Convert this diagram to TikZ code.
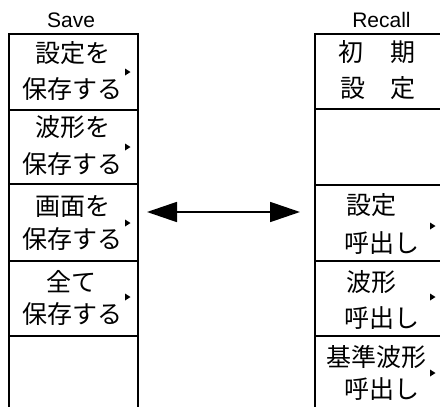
\documentclass[tikz,border=0pt]{standalone}
\usepackage{fontspec}
\setmainfont{Liberation Sans}
\newfontfamily\jp{Noto Sans CJK JP}
\usetikzlibrary{arrows.meta}
\begin{document}
\begin{tikzpicture}[x=1pt,y=-1pt,
  cell/.style={draw, line width=2.4pt, inner sep=0pt, anchor=north west},
  lcell/.style={cell, minimum width=129pt},
  rcell/.style={cell, minimum width=140pt},
  jt/.style={font=\jp\fontsize{25}{30}\selectfont, inner sep=0pt, anchor=base},
  jtw/.style={jt, anchor=base west},
  lbl/.style={font=\fontsize{21}{25}\selectfont, inner sep=0pt, anchor=base},
  arr/.style={line width=1.8pt, {Triangle[length=30pt,width=20pt]}-{Triangle[length=30pt,width=20pt]}}
]
\useasboundingbox (0,0) rectangle (440,407);
\clip (0,0) rectangle (440,407);

% headings
\node[lbl] (save) at (71,27) {Save};
\node[lbl] (recall) at (381.5,27) {Recall};

% left column
\node[lcell, minimum height=76pt] (s1) at (8,33) {};
\node[lcell, minimum height=74pt] (s2) at (8,109) {};
\node[lcell, minimum height=77pt] (s3) at (8,183) {};
\node[lcell, minimum height=75pt] (s4) at (8,260) {};
\node[lcell, minimum height=80pt] (s5) at (8,335) {};

% right column
\node[rcell, minimum height=75pt] (r1) at (314,33) {};
\node[rcell, minimum height=76pt] (r2) at (314,108) {};
\node[rcell, minimum height=76pt] (r3) at (314,184) {};
\node[rcell, minimum height=75pt] (r4) at (314,260) {};
\node[rcell, minimum height=80pt] (r5) at (314,335) {};

% left texts
\node[jt] (s1a) at (72.5,62.5) {設定を};
\node[jt] (s1b) at (72.5,98.5) {保存する};
\node[jt] (s2a) at (72.5,136.5) {波形を};
\node[jt] (s2b) at (72.5,173.5) {保存する};
\node[jt] (s3a) at (72.5,215.5) {画面を};
\node[jt] (s3b) at (72.5,248.5) {保存する};
\node[jt] (s4a) at (71,291.5) {全て};
\node[jt] (s4b) at (72.5,323.5) {保存する};

% right texts
\node[jt] (r1a) at (377,61.5) {初\hspace{27pt}期};
\node[jt] (r1b) at (378,97.5) {設\hspace{25pt}定};
\node[jtw] (r3a) at (346,214.5) {設定};
\node[jtw] (r3b) at (344,252.5) {呼出し};
\node[jtw] (r4a) at (346,291.5) {波形};
\node[jtw] (r4b) at (344,327.5) {呼出し};
\node[jtw] (r5a) at (326,366.5) {基準波形};
\node[jtw] (r5b) at (344,398.5) {呼出し};

% small markers
\foreach \y in {72,147,223,297}{
  \fill (125,\y-3.5) -- (130.5,\y) -- (125,\y+3.5) -- cycle;
}
\foreach \y in {226,297,373}{
  \fill (430,\y-3.5) -- (435.5,\y) -- (430,\y+3.5) -- cycle;
}

% arrow
\coordinate (aL) at (147,212);
\coordinate (aR) at (300,212);
\draw[arr] (aL) -- (aR);
\end{tikzpicture}
\end{document}
